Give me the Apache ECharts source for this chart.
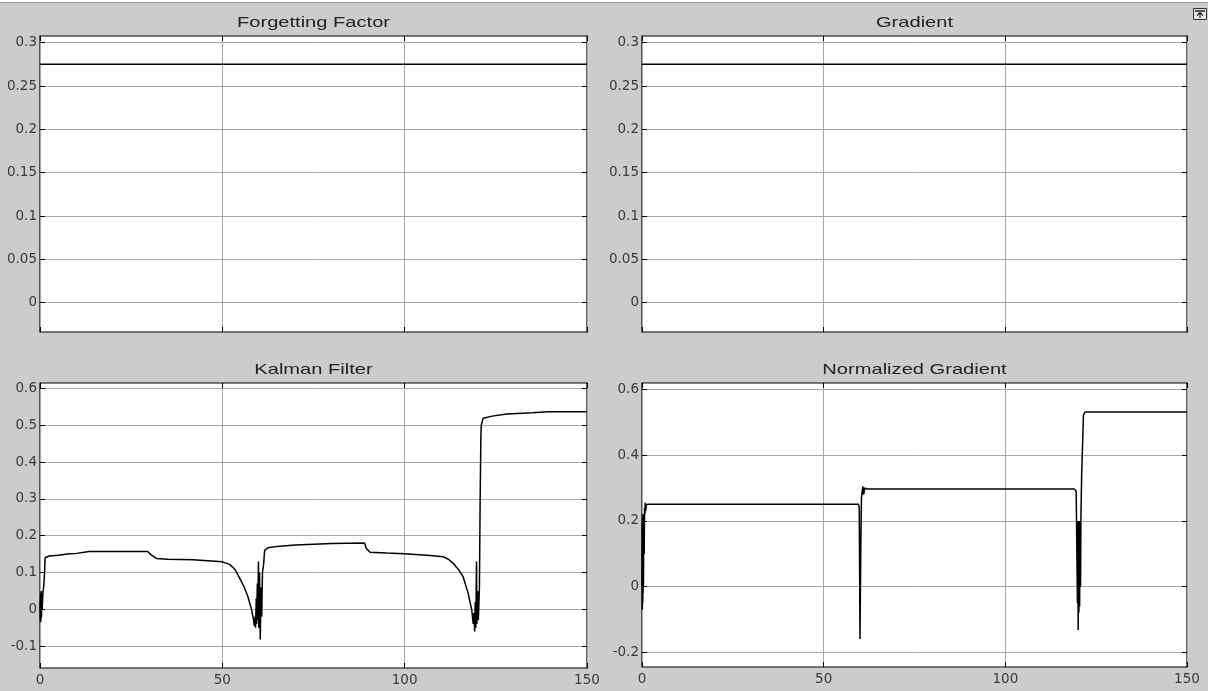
<!DOCTYPE html>
<html>
<head>
<meta charset="utf-8">
<script src="https://cdn.jsdelivr.net/npm/echarts@6/dist/echarts.min.js"></script>
<style>
  html, body { margin: 0; padding: 0; background: #cccccc; }
  #chart { width: 1208px; height: 691px; }
</style>
</head>
<body>
<div id="chart"></div>
<script>
// ---- Data ----
const panelTitles = ['Forgetting Factor', 'Gradient', 'Kalman Filter', 'Normalized Gradient'];
const xTicks = [0, 50, 100, 150];
const topYTicks = [0, 0.05, 0.1, 0.15, 0.2, 0.25, 0.3];
const kalmanYTicks = [-0.1, 0, 0.1, 0.2, 0.3, 0.4, 0.5, 0.6];
const normYTicks = [-0.2, 0, 0.2, 0.4, 0.6];

const forgetT = [0, 150];
const forgetY = [0.275, 0.275];
const gradT = [0, 150];
const gradY = [0.275, 0.275];

const kalmanT = [0, 0.1, 0.15, 0.2, 0.25, 0.3, 0.35, 0.4, 0.5, 0.6, 0.8, 1.0, 1.2, 1.4, 2.5, 5, 7.5, 10, 13.5, 20, 29.5, 30.5, 32, 35, 42, 46, 50, 52, 53.5, 55, 56, 57, 58, 58.5, 58.8, 59.0, 59.1, 59.3, 59.4, 59.6, 59.7, 59.9, 60.0, 60.2, 60.4, 60.6, 60.8, 61.0, 61.3, 61.6, 62.5, 65, 70, 80, 89, 89.5, 90.5, 95, 100, 107, 110.5, 112, 113.3, 115, 116, 117.4, 118.4, 118.8, 119.0, 119.2, 119.35, 119.5, 119.7, 119.8, 120.0, 120.2, 120.5, 120.7, 120.9, 121.0, 121.5, 124, 128, 135, 139.3, 150];
const kalmanY = [0.02, -0.03, 0.04, -0.035, 0.045, -0.025, 0.05, -0.02, 0.03, 0.0, 0.045, 0.06, 0.09, 0.14, 0.145, 0.147, 0.15, 0.152, 0.157, 0.157, 0.157, 0.148, 0.138, 0.136, 0.135, 0.132, 0.129, 0.122, 0.108, 0.08, 0.06, 0.035, 0.0, -0.025, -0.045, -0.02, -0.05, 0.03, -0.04, 0.07, -0.03, 0.13, -0.05, 0.1, -0.082, 0.06, -0.02, 0.1, 0.12, 0.16, 0.167, 0.171, 0.175, 0.179, 0.18, 0.165, 0.155, 0.153, 0.151, 0.146, 0.143, 0.136, 0.125, 0.105, 0.089, 0.044, -0.002, -0.04, -0.01, -0.06, 0.02, -0.05, 0.13, -0.04, 0.05, -0.03, 0.06, 0.3, 0.47, 0.5, 0.519, 0.525, 0.531, 0.534, 0.537, 0.537];

const normT = [0, 0.05, 0.1, 0.15, 0.2, 0.25, 0.3, 0.35, 0.4, 0.5, 0.6, 0.7, 0.8, 0.9, 1.0, 1.2, 2, 59.6, 59.8, 60.0, 60.2, 60.4, 60.6, 60.8, 61.0, 61.3, 62, 118.9, 119.5, 119.7, 119.85, 119.95, 120.05, 120.15, 120.25, 120.35, 120.45, 120.55, 120.7, 120.8, 121.0, 121.4, 121.5, 122, 150];
const normY = [0.0, 0.2, -0.07, 0.21, -0.05, 0.22, -0.02, 0.2, 0.0, 0.22, 0.1, 0.24, 0.22, 0.255, 0.23, 0.25, 0.251, 0.251, 0.24, -0.16, 0.1, 0.27, 0.29, 0.305, 0.28, 0.3, 0.297, 0.297, 0.29, 0.285, -0.05, 0.2, -0.132, 0.15, -0.08, 0.2, -0.06, 0.2, 0.0, 0.21, 0.335, 0.34, 0.523, 0.532, 0.532];

// ---- Layout ----
const panels = [
  { left: 40, top: 36, width: 547, height: 296, min: -0.0338, max: 0.3077, ticks: topYTicks, t: forgetT, y: forgetY, xLabels: false },
  { left: 642, top: 36, width: 545, height: 296, min: -0.0338, max: 0.3077, ticks: topYTicks, t: gradT, y: gradY, xLabels: false },
  { left: 40, top: 383, width: 547, height: 285, min: -0.1595, max: 0.615, ticks: kalmanYTicks, t: kalmanT, y: kalmanY, xLabels: true },
  { left: 642, top: 383, width: 545, height: 284, min: -0.245, max: 0.62, ticks: normYTicks, t: normT, y: normY, xLabels: true }
];

const labelFont = { fontFamily: '"DejaVu Sans", sans-serif', fontSize: 13.5, color: '#3a3a3a' };
const tickStyle = { show: true, inside: true, length: 5, lineStyle: { color: '#000', width: 1 } };
const grids = [], xAxes = [], yAxes = [], series = [], graphics = [];

panels.forEach((p, i) => {
  grids.push({ left: p.left, top: p.top, width: p.width, height: p.height, show: true,
    backgroundColor: '#ffffff', borderColor: '#000000', borderWidth: 1.2, containLabel: false });
  // bottom x axis
  xAxes.push({ type: 'value', gridIndex: i, min: 0, max: 150, interval: 50, position: 'bottom',
    axisLine: { show: false, onZero: false },
    axisTick: tickStyle,
    axisLabel: Object.assign({ show: p.xLabels, margin: 5, customValues: xTicks, formatter: v => String(v) }, labelFont),
    splitLine: { show: true, lineStyle: { color: '#a8a8a8', width: 1 } } });
  // top x axis (ticks only)
  xAxes.push({ type: 'value', gridIndex: i, min: 0, max: 150, interval: 50, position: 'top',
    axisLine: { show: false, onZero: false },
    axisTick: tickStyle,
    axisLabel: { show: false }, splitLine: { show: false } });
  // left y axis
  yAxes.push({ type: 'value', gridIndex: i, min: p.min, max: p.max, position: 'left',
    axisLine: { show: false, onZero: false },
    axisTick: Object.assign({ customValues: p.ticks }, tickStyle),
    axisLabel: Object.assign({ show: true, margin: 3, customValues: p.ticks, formatter: v => String(+v.toFixed(2)) }, labelFont),
    splitLine: { show: true, lineStyle: { color: '#a8a8a8', width: 1 } } });
  // right y axis (ticks only)
  yAxes.push({ type: 'value', gridIndex: i, min: p.min, max: p.max, position: 'right',
    axisLine: { show: false, onZero: false },
    axisTick: Object.assign({ customValues: p.ticks }, tickStyle),
    axisLabel: { show: false }, splitLine: { show: false } });

  series.push({ type: 'line', xAxisIndex: i * 2, yAxisIndex: i * 2, showSymbol: false, symbol: 'none',
    animation: false, clip: true,
    lineStyle: { color: '#000000', width: 1.5 },
    data: p.t.map((t, k) => [t, p.y[k]]) });

  graphics.push({ type: 'text', x: p.left + p.width / 2, y: p.top - 13, scaleX: 1.34,
    style: { text: panelTitles[i], textAlign: 'center', textVerticalAlign: 'middle',
      font: '15px "Liberation Sans", Arial, sans-serif', fill: '#222222' } });
});

// window chrome: top strip and dock icon
graphics.push({ type: 'rect', shape: { x: 0, y: 0, width: 1208, height: 2 }, style: { fill: '#ffffff' } });
graphics.push({ type: 'line', shape: { x1: 0, y1: 2.5, x2: 1208, y2: 2.5 }, style: { stroke: '#9a9a9a', lineWidth: 1 } });
graphics.push({ type: 'rect', shape: { x: 1193.5, y: 8.5, width: 13, height: 11 }, style: { fill: '#e6e6e6', stroke: '#333', lineWidth: 1 } });
graphics.push({ type: 'line', shape: { x1: 1195, y1: 11, x2: 1205, y2: 11 }, style: { stroke: '#222', lineWidth: 1.5 } });
graphics.push({ type: 'polyline', shape: { points: [[1197, 15.5], [1200, 12.5], [1203, 15.5]] }, style: { stroke: '#222', lineWidth: 1.2, fill: null } });
graphics.push({ type: 'line', shape: { x1: 1200, y1: 13, x2: 1200, y2: 18 }, style: { stroke: '#222', lineWidth: 1.2 } });

const chart = echarts.init(document.getElementById('chart'), null, { renderer: 'canvas' });
chart.setOption({
  backgroundColor: '#cccccc',
  animation: false,
  grid: grids,
  xAxis: xAxes,
  yAxis: yAxes,
  series: series,
  graphic: graphics
});
</script>
</body>
</html>
